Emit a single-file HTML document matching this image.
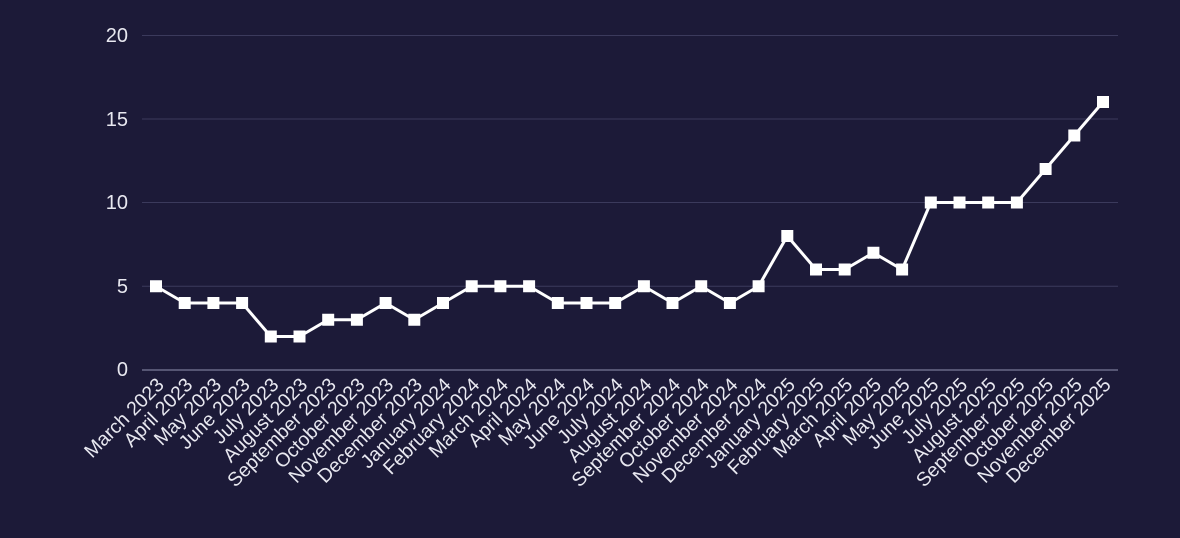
<!DOCTYPE html>
<html><head><meta charset="utf-8"><style>
html,body{margin:0;padding:0;background:#1c1a38;}
svg{display:block;font-family:"Liberation Sans",sans-serif;}
</style></head><body>
<svg width="1180" height="538" viewBox="0 0 1180 538">
<rect width="1180" height="538" fill="#1c1a38"/>
<g stroke="#3b3a5c" stroke-width="1">
<line x1="142" x2="1118" y1="35.5" y2="35.5"/>
<line x1="142" x2="1118" y1="119" y2="119"/>
<line x1="142" x2="1118" y1="202.5" y2="202.5"/>
<line x1="142" x2="1118" y1="286.25" y2="286.25"/>
</g>
<line x1="142" x2="1118" y1="370" y2="370" stroke="#6a6a88" stroke-width="1.5"/>
<g fill="#e8e8f0" font-size="20" text-anchor="end">
<text x="128" y="42">20</text>
<text x="128" y="126">15</text>
<text x="128" y="209">10</text>
<text x="128" y="293">5</text>
<text x="128" y="376">0</text>
</g>
<polyline fill="none" stroke="#ffffff" stroke-width="3" stroke-linejoin="round" points="156,286.25 184.7,303 213.4,303 242.1,303 270.8,336.5 299.5,336.5 328.2,319.75 356.9,319.75 385.6,303 414.3,319.75 443,303 471.7,286.25 500.4,286.25 529.1,286.25 557.8,303 586.5,303 615.2,303 643.9,286.25 672.5,303 701.2,286.25 729.9,303 758.6,286.25 787.3,236 816,269.5 844.7,269.5 873.4,252.75 902.1,269.5 930.8,202.5 959.5,202.5 988.2,202.5 1016.9,202.5 1045.6,169 1074.3,135.5 1103,102"/>
<g fill="#ffffff">
<rect x="150" y="280.25" width="12" height="12"/><rect x="178.7" y="297" width="12" height="12"/><rect x="207.4" y="297" width="12" height="12"/><rect x="236.1" y="297" width="12" height="12"/><rect x="264.8" y="330.5" width="12" height="12"/><rect x="293.5" y="330.5" width="12" height="12"/><rect x="322.2" y="313.75" width="12" height="12"/><rect x="350.9" y="313.75" width="12" height="12"/><rect x="379.6" y="297" width="12" height="12"/><rect x="408.3" y="313.75" width="12" height="12"/><rect x="437" y="297" width="12" height="12"/><rect x="465.7" y="280.25" width="12" height="12"/><rect x="494.4" y="280.25" width="12" height="12"/><rect x="523.1" y="280.25" width="12" height="12"/><rect x="551.8" y="297" width="12" height="12"/><rect x="580.5" y="297" width="12" height="12"/><rect x="609.2" y="297" width="12" height="12"/><rect x="637.9" y="280.25" width="12" height="12"/><rect x="666.5" y="297" width="12" height="12"/><rect x="695.2" y="280.25" width="12" height="12"/><rect x="723.9" y="297" width="12" height="12"/><rect x="752.6" y="280.25" width="12" height="12"/><rect x="781.3" y="230" width="12" height="12"/><rect x="810" y="263.5" width="12" height="12"/><rect x="838.7" y="263.5" width="12" height="12"/><rect x="867.4" y="246.75" width="12" height="12"/><rect x="896.1" y="263.5" width="12" height="12"/><rect x="924.8" y="196.5" width="12" height="12"/><rect x="953.5" y="196.5" width="12" height="12"/><rect x="982.2" y="196.5" width="12" height="12"/><rect x="1010.9" y="196.5" width="12" height="12"/><rect x="1039.6" y="163" width="12" height="12"/><rect x="1068.3" y="129.5" width="12" height="12"/><rect x="1097" y="96" width="12" height="12"/>
</g>
<g fill="#e8e8f0" font-size="19.5" text-anchor="end">
<text transform="translate(165,386) rotate(-45)">March 2023</text>
<text transform="translate(193.7,386) rotate(-45)">April 2023</text>
<text transform="translate(222.4,386) rotate(-45)">May 2023</text>
<text transform="translate(251.1,386) rotate(-45)">June 2023</text>
<text transform="translate(279.8,386) rotate(-45)">July 2023</text>
<text transform="translate(308.5,386) rotate(-45)">August 2023</text>
<text transform="translate(337.2,386) rotate(-45)">September 2023</text>
<text transform="translate(365.9,386) rotate(-45)">October 2023</text>
<text transform="translate(394.6,386) rotate(-45)">November 2023</text>
<text transform="translate(423.3,386) rotate(-45)">December 2023</text>
<text transform="translate(452,386) rotate(-45)">January 2024</text>
<text transform="translate(480.7,386) rotate(-45)">February 2024</text>
<text transform="translate(509.4,386) rotate(-45)">March 2024</text>
<text transform="translate(538.1,386) rotate(-45)">April 2024</text>
<text transform="translate(566.8,386) rotate(-45)">May 2024</text>
<text transform="translate(595.5,386) rotate(-45)">June 2024</text>
<text transform="translate(624.2,386) rotate(-45)">July 2024</text>
<text transform="translate(652.9,386) rotate(-45)">August 2024</text>
<text transform="translate(681.5,386) rotate(-45)">September 2024</text>
<text transform="translate(710.2,386) rotate(-45)">October 2024</text>
<text transform="translate(738.9,386) rotate(-45)">November 2024</text>
<text transform="translate(767.6,386) rotate(-45)">December 2024</text>
<text transform="translate(796.3,386) rotate(-45)">January 2025</text>
<text transform="translate(825,386) rotate(-45)">February 2025</text>
<text transform="translate(853.7,386) rotate(-45)">March 2025</text>
<text transform="translate(882.4,386) rotate(-45)">April 2025</text>
<text transform="translate(911.1,386) rotate(-45)">May 2025</text>
<text transform="translate(939.8,386) rotate(-45)">June 2025</text>
<text transform="translate(968.5,386) rotate(-45)">July 2025</text>
<text transform="translate(997.2,386) rotate(-45)">August 2025</text>
<text transform="translate(1025.9,386) rotate(-45)">September 2025</text>
<text transform="translate(1054.6,386) rotate(-45)">October 2025</text>
<text transform="translate(1083.3,386) rotate(-45)">November 2025</text>
<text transform="translate(1112,386) rotate(-45)">December 2025</text>
</g>
</svg>
</body></html>
